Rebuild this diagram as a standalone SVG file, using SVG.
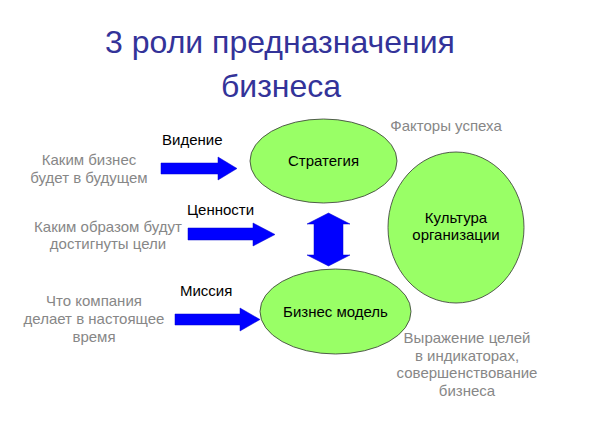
<svg xmlns="http://www.w3.org/2000/svg" width="600" height="428" viewBox="0 0 600 428">
<style>
text{font-family:"Liberation Sans",Arial,sans-serif;}
.title{font-size:32px;fill:#333399;text-anchor:middle;}
.lbl{font-size:15px;fill:#000;}
.node{font-size:15px;fill:#000;text-anchor:middle;}
.grey{font-size:15px;fill:#878787;text-anchor:middle;}
.ell{fill:#99FF66;stroke:#333;stroke-width:0.8;}
.arr{fill:#0000FF;stroke:#0000CC;stroke-width:0.5;}
</style>
<rect width="600" height="428" fill="#fff"/>
<g id="title">
<text class="title" x="280" y="53">3 роли предназначения</text>
<text class="title" x="281" y="97">бизнеса</text>
</g>
<g id="strategy">
<ellipse class="ell" cx="323.5" cy="161" rx="73.5" ry="42"/>
<text class="node" x="323.5" y="166">Стратегия</text>
</g>
<g id="culture">
<ellipse class="ell" cx="456" cy="227.5" rx="68" ry="75.5"/>
<text class="node" x="456" y="223">Культура</text>
<text class="node" x="456" y="240">организации</text>
</g>
<g id="bizmodel">
<ellipse class="ell" cx="335.5" cy="311.5" rx="75.5" ry="42.5"/>
<text class="node" x="335.5" y="317">Бизнес модель</text>
</g>
<g id="notes">
<text class="grey" x="89" y="165">Каким бизнес</text>
<text class="grey" x="89" y="183">будет в будущем</text>
<text class="grey" x="108" y="232">Каким образом будут</text>
<text class="grey" x="108" y="249">достигнуты цели</text>
<text class="grey" x="94" y="306">Что компания</text>
<text class="grey" x="94" y="324">делает в настоящее</text>
<text class="grey" x="94" y="342">время</text>
<text class="grey" x="446" y="131">Факторы успеха</text>
<text class="grey" x="467" y="343">Выражение целей</text>
<text class="grey" x="467" y="361">в индикаторах,</text>
<text class="grey" x="467" y="378">совершенствование</text>
<text class="grey" x="467" y="396">бизнеса</text>
</g>
<g id="connectors">
<polygon class="arr" points="161,163 218,163 218,157 237,168.5 218,180 218,174 161,174"/>
<polygon class="arr" points="188,228 253,228 253,223 275,234.5 253,246 253,240 188,240"/>
<polygon class="arr" points="175,314 240,314 240,308 260,319.5 240,331 240,325 175,325"/>
<polygon class="arr" points="328.5,213 350,224 343,224 343,255 350,255 328.5,266 307,255 314,255 314,224 307,224"/>
<text class="lbl" x="162" y="145">Видение</text>
<text class="lbl" x="187" y="215">Ценности</text>
<text class="lbl" x="180" y="296">Миссия</text>
</g>
</svg>
